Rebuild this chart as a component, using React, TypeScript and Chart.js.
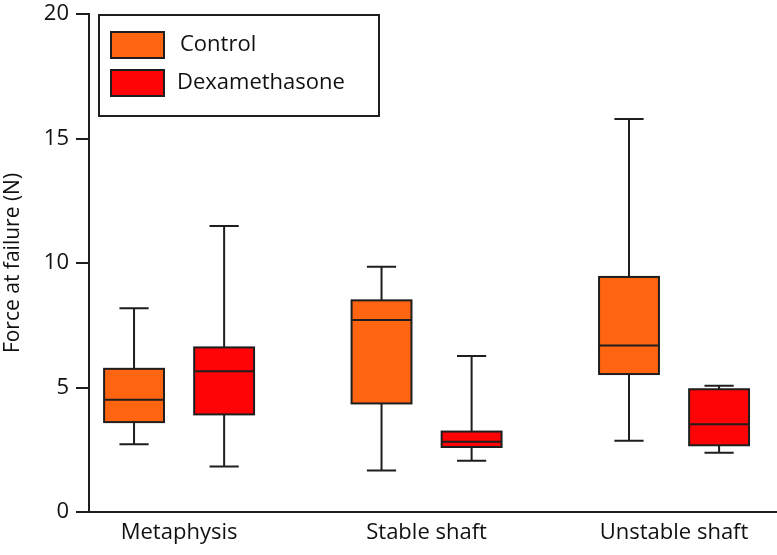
import React, { useEffect, useRef } from 'react';
import { Chart, registerables } from 'chart.js';

Chart.register(...registerables);

const categories = ['Metaphysis', 'Stable shaft', 'Unstable shaft'];
const seriesNames = ['Control', 'Dexamethasone'];
const seriesColors = ['#FF6410', '#FE0407'];

const controlMin = [2.72, 1.67, 2.86];
const controlQ1 = [3.61, 4.36, 5.54];
const controlMedian = [4.51, 7.71, 6.69];
const controlQ3 = [5.75, 8.5, 9.44];
const controlMax = [8.18, 9.85, 15.78];

const dexMin = [1.83, 2.06, 2.38];
const dexQ1 = [3.92, 2.61, 2.68];
const dexMedian = [5.65, 2.82, 3.52];
const dexQ3 = [6.61, 3.23, 4.93];
const dexMax = [11.49, 6.27, 5.07];

const yTicks = [0, 5, 10, 15, 20];

const FONT = '"Open Sans", "Noto Sans", sans-serif';
const EDGE = '#1e1e1e';
const SERIES_OFFSET = [-0.182, 0.182];
const BOX_HALF = 0.121;
const CAP_HALF = 0.059;

function buildData(mins: number[], q1: number[], med: number[], q3: number[], maxs: number[]) {
  return categories.map((_, i) => ({
    x: i + 1,
    y: med[i],
    min: mins[i],
    q1: q1[i],
    median: med[i],
    q3: q3[i],
    max: maxs[i],
  }));
}

const boxPlugin = {
  id: 'boxDraw',
  afterDatasetsDraw(chart: any) {
    const ctx = chart.ctx;
    const xs = chart.scales.x;
    const ys = chart.scales.y;
    chart.data.datasets.forEach((ds: any, di: number) => {
      const off = SERIES_OFFSET[di];
      ds.data.forEach((d: any) => {
        const cx = xs.getPixelForValue(d.x + off);
        const l = xs.getPixelForValue(d.x + off - BOX_HALF);
        const r = xs.getPixelForValue(d.x + off + BOX_HALF);
        const cl = xs.getPixelForValue(d.x + off - CAP_HALF);
        const cr = xs.getPixelForValue(d.x + off + CAP_HALF);
        const yMin = ys.getPixelForValue(d.min);
        const yQ1 = ys.getPixelForValue(d.q1);
        const yMed = ys.getPixelForValue(d.median);
        const yQ3 = ys.getPixelForValue(d.q3);
        const yMax = ys.getPixelForValue(d.max);
        ctx.save();
        ctx.strokeStyle = EDGE;
        ctx.lineWidth = 2;
        ctx.beginPath();
        ctx.moveTo(cx, yMin);
        ctx.lineTo(cx, yQ1);
        ctx.moveTo(cx, yQ3);
        ctx.lineTo(cx, yMax);
        ctx.moveTo(cl, yMin);
        ctx.lineTo(cr, yMin);
        ctx.moveTo(cl, yMax);
        ctx.lineTo(cr, yMax);
        ctx.stroke();
        ctx.fillStyle = ds.backgroundColor;
        ctx.fillRect(l, yQ3, r - l, yQ1 - yQ3);
        ctx.strokeRect(l, yQ3, r - l, yQ1 - yQ3);
        ctx.beginPath();
        ctx.moveTo(l, yMed);
        ctx.lineTo(r, yMed);
        ctx.stroke();
        ctx.restore();
      });
    });
    // legend
    const area = chart.chartArea;
    const lx = area.left + 10;
    const ly = area.top + 1;
    ctx.save();
    ctx.strokeStyle = EDGE;
    ctx.lineWidth = 2;
    ctx.fillStyle = '#ffffff';
    ctx.fillRect(lx, ly, 280, 101);
    ctx.strokeRect(lx, ly, 280, 101);
    chart.data.datasets.forEach((ds: any, di: number) => {
      const sy = ly + 17 + di * 38;
      ctx.fillStyle = ds.backgroundColor;
      ctx.fillRect(lx + 12, sy, 53, 26);
      ctx.strokeRect(lx + 12, sy, 53, 26);
      ctx.fillStyle = '#111';
      ctx.font = `22px ${FONT}`;
      ctx.textBaseline = 'middle';
      ctx.textAlign = 'left';
      ctx.fillText(ds.label, lx + 81 - (di === 1 ? 3 : 0), sy + 13);
    });
    ctx.restore();
  },
};

export default function App() {
  const ref = useRef<HTMLCanvasElement | null>(null);
  useEffect(() => {
    if (!ref.current) return;
    const chart = new Chart(ref.current, {
      type: 'scatter',
      data: {
        datasets: [
          {
            label: seriesNames[0],
            data: buildData(controlMin, controlQ1, controlMedian, controlQ3, controlMax) as any,
            backgroundColor: seriesColors[0],
            pointRadius: 0,
            pointHoverRadius: 0,
          },
          {
            label: seriesNames[1],
            data: buildData(dexMin, dexQ1, dexMedian, dexQ3, dexMax) as any,
            backgroundColor: seriesColors[1],
            pointRadius: 0,
            pointHoverRadius: 0,
          },
        ],
      },
      plugins: [boxPlugin],
      options: {
        responsive: false,
        animation: false,
        events: [],
        layout: { padding: { top: 14, right: 0, left: 0, bottom: 0 } },
        plugins: {
          legend: { display: false },
          tooltip: { enabled: false },
        },
        scales: {
          x: {
            type: 'linear',
            min: 0.636,
            max: 3.416,
            afterBuildTicks: (scale: any) => {
              scale.ticks = categories.map((_, i) => ({ value: i + 1 }));
            },
            afterFit: (scale: any) => {
              scale.height = 43;
              scale.paddingLeft = 0;
              scale.paddingRight = 0;
            },
            grid: { display: false, drawTicks: false },
            border: { display: true, color: EDGE, width: 2 },
            ticks: {
              padding: 8,
              color: '#111',
              font: { family: FONT, size: 22 },
              maxRotation: 0,
              autoSkip: false,
              callback: (v: any) => categories[Math.round(v) - 1] ?? '',
            },
          },
          y: {
            min: 0,
            max: 20,
            afterBuildTicks: (scale: any) => {
              scale.ticks = yTicks.map((v) => ({ value: v }));
            },
            afterFit: (scale: any) => {
              scale.width = 89;
              scale.paddingTop = 0;
              scale.paddingBottom = 0;
            },
            grid: {
              display: true,
              drawOnChartArea: false,
              drawTicks: true,
              tickLength: 13,
              color: EDGE,
              lineWidth: 2,
            },
            border: { display: true, color: EDGE, width: 2 },
            ticks: {
              padding: 7,
              color: '#111',
              font: { family: FONT, size: 22 },
            },
            title: {
              display: true,
              text: 'Force at failure (N)',
              color: '#111',
              font: { family: FONT, size: 21 },
              padding: { top: 0, bottom: 0 },
            },
          },
        },
      },
    });
    return () => chart.destroy();
  }, []);
  return (
    <div style={{ position: 'fixed', left: 0, top: 0, width: 777, height: 555, background: '#fff' }}>
      <canvas ref={ref} width={777} height={555} style={{ display: 'block' }} />
    </div>
  );
}
